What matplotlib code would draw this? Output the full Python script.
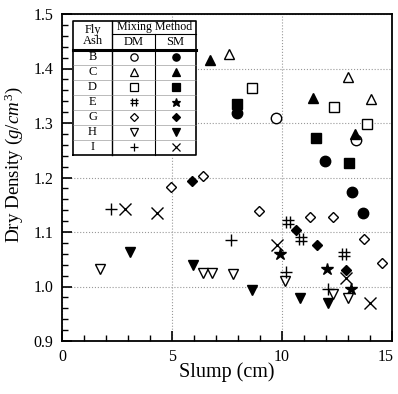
import matplotlib
matplotlib.use("Agg")
import matplotlib.pyplot as plt
import matplotlib.transforms as mtransforms
from matplotlib.path import Path

plt.rcParams['font.family'] = ['Liberation Serif', 'DejaVu Serif']
plt.rcParams['mathtext.fontset'] = 'custom'
plt.rcParams['mathtext.rm'] = 'Liberation Serif'
plt.rcParams['mathtext.it'] = 'Liberation Serif:italic'

# Data (slump cm, dry density g/cm3)
B_DM_x = [9.73, 13.36]; B_DM_y = [1.310, 1.268]
B_SM_x = [7.94, 11.95, 13.20, 13.67]; B_SM_y = [1.318, 1.231, 1.174, 1.135]
C_DM_x = [7.61, 12.99, 14.03]; C_DM_y = [1.426, 1.384, 1.344]
C_SM_x = [6.73, 11.39, 13.32]; C_SM_y = [1.416, 1.345, 1.279]
D_DM_x = [8.62, 12.38, 13.85]; D_DM_y = [1.364, 1.330, 1.299]
D_SM_x = [7.94, 11.55, 13.06]; D_SM_y = [1.335, 1.273, 1.226]
E_DM_x = [10.26, 10.86, 12.83]; E_DM_y = [1.119, 1.088, 1.059]
E_SM_x = [9.91, 12.03, 13.14]; E_SM_y = [1.059, 1.033, 0.995]
G_DM_x = [4.95, 6.39, 8.97, 11.27, 12.33, 13.73, 14.56]
G_DM_y = [1.183, 1.203, 1.139, 1.128, 1.128, 1.087, 1.043]
G_SM_x = [5.92, 10.64, 11.58, 12.91]; G_SM_y = [1.194, 1.104, 1.077, 1.030]
H_DM_x = [1.73, 6.39, 6.80, 7.79, 10.14, 12.33, 13.02]
H_DM_y = [1.033, 1.024, 1.024, 1.023, 1.010, 0.987, 0.978]
H_SM_x = [3.09, 5.97, 8.65, 10.82, 12.11]; H_SM_y = [1.064, 1.039, 0.994, 0.978, 0.969]
I_DM_x = [2.21, 7.67, 10.17, 12.11]; I_DM_y = [1.142, 1.085, 1.027, 0.995]
I_SM_x = [2.86, 4.30, 9.76, 12.91, 14.00]; I_SM_y = [1.143, 1.134, 1.076, 1.015, 0.970]

fly_ash = ['B', 'C', 'D', 'E', 'G', 'H', 'I']
x_ticks = [0, 5, 10, 15]
x_ticklabels = ['0', '5', '10', '15']
y_ticks = [0.9, 1.0, 1.1, 1.2, 1.3, 1.4, 1.5]
y_ticklabels = ['0.9', '1.0', '1.1', '1.2', '1.3', '1.4', '1.5']

# hash marker path
HASH = Path(
    [(-0.2, -0.5), (-0.2, 0.5), (0.2, -0.5), (0.2, 0.5),
     (-0.5, -0.15), (0.5, -0.15), (-0.5, 0.2), (0.5, 0.2)],
    [Path.MOVETO, Path.LINETO, Path.MOVETO, Path.LINETO,
     Path.MOVETO, Path.LINETO, Path.MOVETO, Path.LINETO])

series = [
    (B_DM_x, B_DM_y, 'o', False, B_SM_x, B_SM_y, 'o'),
    (C_DM_x, C_DM_y, '^', False, C_SM_x, C_SM_y, '^'),
    (D_DM_x, D_DM_y, 's', False, D_SM_x, D_SM_y, 's'),
    (E_DM_x, E_DM_y, HASH, True, E_SM_x, E_SM_y, '*'),
    (G_DM_x, G_DM_y, 'D', False, G_SM_x, G_SM_y, 'D'),
    (H_DM_x, H_DM_y, 'v', False, H_SM_x, H_SM_y, 'v'),
    (I_DM_x, I_DM_y, '+', True, I_SM_x, I_SM_y, 'x'),
]

fig = plt.figure(figsize=(3.98, 3.94), dpi=100)
ax = fig.add_axes([62/398, 1-341/394, 330/398, 327/394])

def sizes(m):
    if isinstance(m, Path):
        return 8
    if m == 'D':
        return 5.2
    if m in ('+', 'x'):
        return 9
    if m == '*':
        return 9
    return 7.5

for dx, dy, dm, dline, sx, sy, sm in series:
    if dline:
        ax.plot(dx, dy, linestyle='none', marker=dm, color='black', mfc='none', ms=sizes(dm), mew=1.0)
    else:
        ax.plot(dx, dy, linestyle='none', marker=dm, mfc='white', mec='black', ms=sizes(dm), mew=1.0)
    ax.plot(sx, sy, linestyle='none', marker=sm, color='black', ms=sizes(sm), mew=1.0)

ax.set_xlim(0, 15)
ax.set_ylim(0.9, 1.5)
ax.set_xticks(x_ticks)
ax.set_xticks(range(0, 16), minor=True)
ax.set_yticks(y_ticks)
ax.set_yticks([0.9 + 0.02*i for i in range(31)], minor=True)
ax.set_xticklabels(x_ticklabels)
ax.set_yticklabels(y_ticklabels)
ax.tick_params(which='major', direction='in', length=7, width=1.2, labelsize=11.5, pad=6)
ax.tick_params(which='minor', direction='in', length=4, width=1.0)
ax.tick_params(top=False, right=False)
ax.grid(True, which='major', color='#999999', linestyle=':', linewidth=0.8)
for s in ax.spines.values():
    s.set_linewidth(1.3)
ax.set_xlabel('Slump (cm)', fontsize=14.5, labelpad=-2)
ax.set_ylabel('Dry Density ($g/cm^3$)', fontsize=13.7)
ax.yaxis.set_label_coords(-0.112, 0.538)

# nudge the last x tick label so it stays inside the figure
last = ax.xaxis.get_major_ticks()[-1].label1
last.set_transform(last.get_transform() + mtransforms.ScaledTranslation(-6/100, 0, fig.dpi_scale_trans))

# Legend table (axes fraction coordinates)
L, C1, C2, R = 0.033, 0.152, 0.282, 0.406
T, HM, HB, BOT = 0.9795, 0.938, 0.890, 0.569
tr = ax.transAxes
ax.fill([L, R, R, L], [BOT, BOT, T, T], color='white', transform=tr, zorder=4)
kw = dict(transform=tr, color='black', zorder=5)
ax.plot([L, R, R, L, L], [BOT, BOT, T, T, BOT], lw=1.2, **kw)
ax.plot([C1, C1], [BOT, T], lw=1.0, **kw)
ax.plot([C2, C2], [BOT, HM], lw=0.8, **kw)
ax.plot([C1, R], [HM, HM], lw=0.8, **kw)
ax.plot([L, R], [HB, HB], lw=2.2, **kw)
rh = (HB - BOT) / 7
for i in range(1, 7):
    ax.plot([L, R], [HB - i*rh]*2, lw=0.4, transform=tr, color='#888888', zorder=5)
tk = dict(transform=tr, ha='center', va='center', fontsize=9, zorder=6)
ax.text((L+C1)/2, (T+HB)/2, 'Fly\nAsh', linespacing=0.85, **tk)
ax.text((C1+R)/2 + 0.002, (T+HM)/2, 'Mixing Method', transform=tr, ha='center', va='center', fontsize=8.6, zorder=6)
ax.text((C1+C2)/2, (HM+HB)/2, 'DM', **tk)
ax.text((C2+R)/2, (HM+HB)/2, 'SM', **tk)
for i, (name, (dx, dy, dm, dline, sx, sy, sm)) in enumerate(zip(fly_ash, series)):
    yc = HB - (i + 0.5) * rh
    ax.text((L+C1)/2, yc, name, **tk)
    s1 = sizes(dm) * 0.7
    if dline:
        ax.plot([(C1+C2)/2], [yc], marker=dm, color='black', mfc='none', ms=s1, mew=0.9, transform=tr, zorder=6, linestyle='none')
    else:
        ax.plot([(C1+C2)/2], [yc], marker=dm, mfc='white', mec='black', ms=s1, mew=0.9, transform=tr, zorder=6, linestyle='none')
    ax.plot([(C2+R)/2], [yc], marker=sm, color='black', ms=sizes(sm)*0.7, mew=0.9, transform=tr, zorder=6, linestyle='none')

fig.savefig('out.png', dpi=100)
